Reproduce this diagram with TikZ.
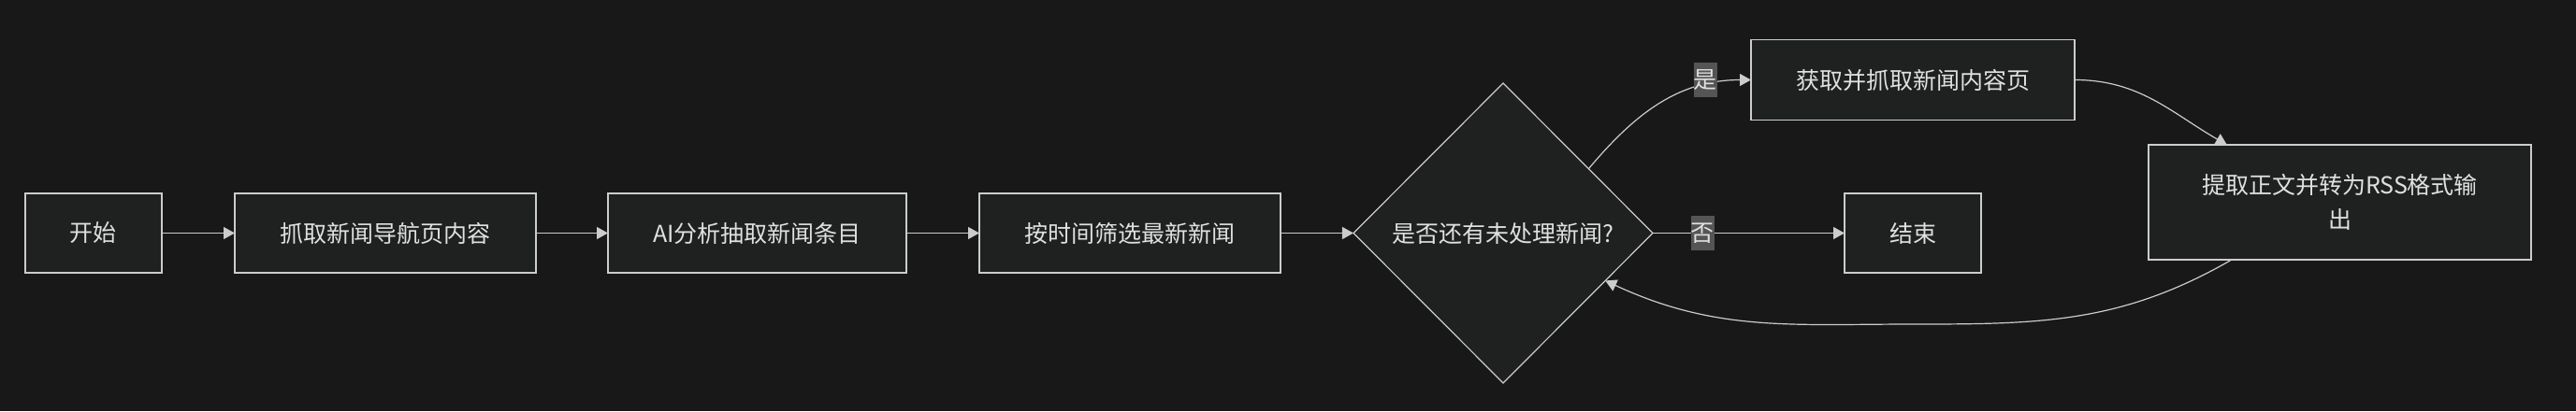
\documentclass[tikz,border=0pt]{standalone}
\usepackage{fontspec}
\usepackage{tikz}
\usetikzlibrary{shapes,shapes.geometric,arrows.meta,calc,positioning}
\newfontfamily\cjk{Noto Sans CJK SC}
\definecolor{bg}{HTML}{181818}
\definecolor{nodefill}{HTML}{1F2020}
\definecolor{edgecol}{HTML}{CCCCCC}
\definecolor{txt}{HTML}{E0E0E0}
\definecolor{lblbg}{HTML}{555555}
\tikzset{st/.style={draw=edgecol, fill=nodefill, text=txt, rectangle, line width=0.6pt, inner sep=0pt, outer sep=0pt, minimum height=42.5pt}}
\tikzstyle{cond}=[st, diamond, aspect=1, minimum width=160pt, minimum height=160.5pt]
\tikzstyle{lbl}=[fill=lblbg, text=txt, inner sep=0pt, minimum width=12.5pt, minimum height=18.5pt]

\begin{document}
\begin{tikzpicture}[>={Triangle[length=6pt,width=6.5pt]}, line width=0.6pt, font=\cjk\fontsize{12.5}{18.5}\selectfont]
\fill[bg] (0,0) rectangle (1377pt,-220pt);
\node[st, minimum width=73pt] (S0) at (50pt,-124.75pt) {开始};
\node[st, minimum width=161pt][right=39pt of S0] (S1) {抓取新闻导航页内容};
\node[st, minimum width=159.5pt][right=38.5pt of S1] (S2) {AI分析抽取新闻条目};
\node[st, minimum width=161pt][right=39pt of S2] (S3) {按时间筛选最新新闻};
\node[cond][right=39pt of S3] (Q) {是否还有未处理新闻?};
\node[st, minimum width=73pt][right=102.5pt of Q] (E) {结束};
\node[st, minimum width=173pt, minimum height=43pt][right=52.5pt of Q, yshift=82pt] (Y1) {获取并抓取新闻内容页};
\node[st, minimum width=204.5pt, minimum height=61.5pt, align=center][right=89.5pt of E, yshift=16.5pt] (Y2) {提取正文并转为RSS格式输\\出};
\coordinate (L) at ([yshift=-27.5pt]E.south);

\path[->, color=edgecol](S0) edge (S1)
	(S1) edge (S2)
	(S2) edge (S3)
	(S3) edge (Q)
	(Q) edge node[lbl, pos=0.26] {否} (E)
	(Q.37) edge[out=50, in=180] node[lbl, pos=0.77, yshift=3pt] {是} (Y1.west)
	(Y1.east) edge[out=0, in=150] (Y2.153)
;
\draw[->, color=edgecol] (Y2.-152) to[out=-150, in=0] (L) to[out=180, in=-25] (Q.-25);
\end{tikzpicture}
\end{document}
